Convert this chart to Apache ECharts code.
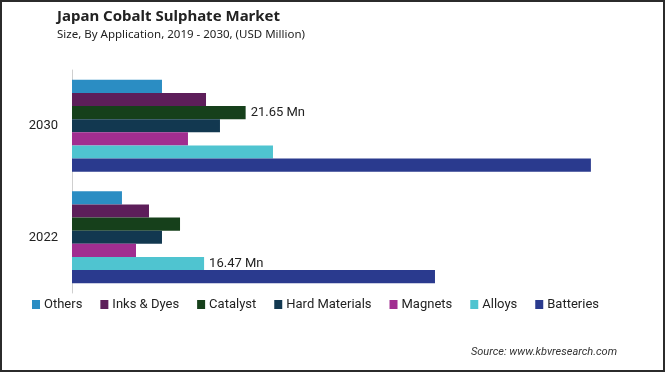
<!DOCTYPE html>
<html><head><meta charset="utf-8">
<script src="https://cdn.jsdelivr.net/npm/echarts@6/dist/echarts.min.js"></script>
<style>
html,body{margin:0;padding:0;background:#fff;}
#frame{position:absolute;left:0;top:0;width:665px;height:372px;box-sizing:border-box;border:2px solid #2b2b2b;}
#chart{position:absolute;left:0;top:0;width:665px;height:372px;}
</style></head>
<body>
<div id="chart"></div>
<div id="frame"></div>
<script>
const categories = ['2022', '2030'];
const seriesNames = ['Others', 'Inks & Dyes', 'Catalyst', 'Hard Materials', 'Magnets', 'Alloys', 'Batteries'];
const others = [6.23, 11.22];
const inksDyes = [9.60, 16.71];
const catalyst = [13.47, 21.65];
const hardMaterials = [11.22, 18.45];
const magnets = [7.98, 14.46];
const alloys = [16.47, 25.06];
const batteries = [45.26, 64.70];
const labelled = { 'Catalyst': 1, 'Alloys': 0 }; // series -> category index with a label
const colors = ['#2B8DC3', '#5D1E5A', '#16401B', '#123850', '#A12E90', '#4FC4D0', '#2A3A8E'];
const values = [others, inksDyes, catalyst, hardMaterials, magnets, alloys, batteries];

const chart = echarts.init(document.getElementById('chart'), null, { renderer: 'canvas' });
const series = seriesNames.map((name, i) => ({
  name: name,
  type: 'bar',
  barGap: '0%',
  barCategoryGap: '17.5%',
  itemStyle: { color: colors[i] },
  data: values[i].map((v, ci) => ({
    value: v,
    label: (labelled[name] === ci) ? {
      show: true, position: 'right', distance: 5,
      formatter: (p) => p.value.toFixed(2) + ' Mn',
      color: '#222', fontSize: 13, fontFamily: 'Roboto'
    } : { show: false }
  }))
}));

chart.setOption({
  animation: false,
  title: {
    text: 'Japan Cobalt Sulphate Market',
    subtext: 'Size, By Application, 2019 - 2030, (USD Million)',
    left: 52, top: 4, itemGap: 5,
    textStyle: { fontSize: 15, fontWeight: 'bold', color: '#222', fontFamily: 'Noto Sans' },
    subtextStyle: { fontSize: 11.5, color: '#222', fontFamily: 'Noto Sans' }
  },
  legend: {
    data: seriesNames,
    left: 27, top: 293,
    icon: 'rect', itemWidth: 8, itemHeight: 9, itemGap: 18,
    textStyle: { fontSize: 13, color: '#222', fontFamily: 'Roboto', padding: [0, 0, 0, -1] }
  },
  grid: { left: 72, top: 70, width: 561.4, height: 223, containLabel: false },
  xAxis: {
    type: 'value', min: 0, max: 70,
    axisLine: { show: false }, axisTick: { show: false }, axisLabel: { show: false }, splitLine: { show: false }
  },
  yAxis: {
    type: 'category', data: categories,
    axisLine: { show: true, lineStyle: { color: '#cfcfcf', width: 1 } },
    axisTick: { show: false },
    axisLabel: { color: '#222', fontSize: 13, fontFamily: 'Roboto', margin: 14 }
  },
  graphic: [{
    type: 'text', right: 48, top: 347,
    style: { text: 'Source: www.kbvresearch.com', fill: '#333', fontSize: 11, fontStyle: 'italic', fontFamily: 'Roboto' }
  }],
  series: series
});
</script>
</body></html>
